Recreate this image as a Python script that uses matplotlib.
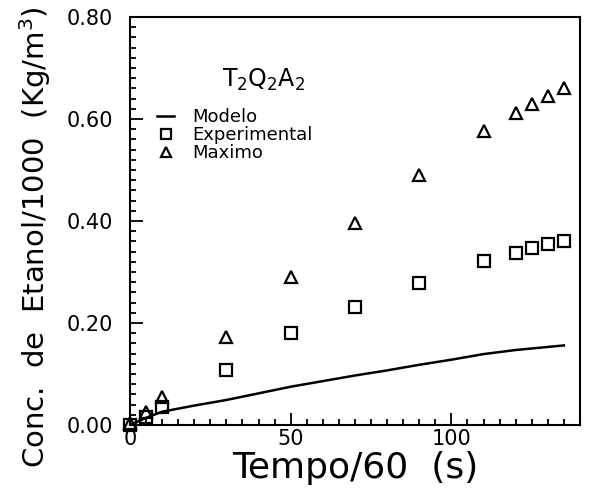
import matplotlib
matplotlib.use('Agg')
import matplotlib.pyplot as plt
from matplotlib.ticker import MultipleLocator

# === DATI ===
tempo_modelo = [0, 5, 10, 20, 30, 40, 50, 60, 70, 80, 90, 100, 110, 120, 130, 135]
conc_modelo = [0.0, 0.014, 0.026, 0.038, 0.049, 0.062, 0.075, 0.086, 0.097,
               0.107, 0.118, 0.128, 0.139, 0.147, 0.153, 0.156]

tempo_exp = [0, 5, 10, 30, 50, 70, 90, 110, 120, 125, 130, 135]
conc_exp = [0.0, 0.015, 0.036, 0.108, 0.180, 0.231, 0.278, 0.321, 0.337, 0.347, 0.355, 0.361]

tempo_max = [0, 5, 10, 30, 50, 70, 90, 110, 120, 125, 130, 135]
conc_max = [0.003, 0.026, 0.055, 0.172, 0.291, 0.396, 0.490, 0.577, 0.611, 0.629, 0.646, 0.661]

# === GRAFICO ===
fig = plt.figure(figsize=(5.9, 4.93), dpi=100)
ax = fig.add_axes([0.2203, 0.138, 0.7627, 0.8275])

ax.plot(tempo_modelo, conc_modelo, color='black', linewidth=1.8, label='Modelo')
ax.plot(tempo_exp, conc_exp, linestyle='none', marker='s', markersize=8,
        markerfacecolor='none', markeredgecolor='black', markeredgewidth=1.6,
        clip_on=False, label='Experimental')
ax.plot(tempo_max, conc_max, linestyle='none', marker='^', markersize=9,
        markerfacecolor='none', markeredgecolor='black', markeredgewidth=1.6,
        clip_on=False, label='Maximo')

ax.set_xlim(0, 140)
ax.set_ylim(0, 0.8)
ax.xaxis.set_major_locator(MultipleLocator(50))
ax.xaxis.set_minor_locator(MultipleLocator(5))
ax.yaxis.set_major_locator(MultipleLocator(0.2))
ax.yaxis.set_minor_locator(MultipleLocator(0.02))
ax.yaxis.set_major_formatter(lambda v, p: f'{v:.2f}')

ax.tick_params(which='both', direction='in', top=False, right=False,
               labelsize=15, width=1.3)
ax.tick_params(which='major', length=9)
ax.tick_params(axis='y', which='major', pad=12)
ax.tick_params(axis='x', which='major', pad=3)
ax.tick_params(which='minor', length=4.5)
for s in ax.spines.values():
    s.set_linewidth(1.5)

ax.set_xlabel('Tempo/60  (s)', fontsize=26, labelpad=1)
ax.set_ylabel('Conc.  de  Etanol/1000  (Kg/m$^3$)', fontsize=21)
ax.yaxis.set_label_coords(-0.17, 0.46)

ax.text(0.205, 0.83, 'T$_2$Q$_2$A$_2$', transform=ax.transAxes, fontsize=17)
ax.legend(loc='upper left', bbox_to_anchor=(0.045, 0.795), frameon=False,
          fontsize=13, handlelength=0.9, handletextpad=1.0,
          borderaxespad=0, labelspacing=0.0, markerscale=0.85)

fig.savefig('out.png', dpi=100)
plt.close(fig)
